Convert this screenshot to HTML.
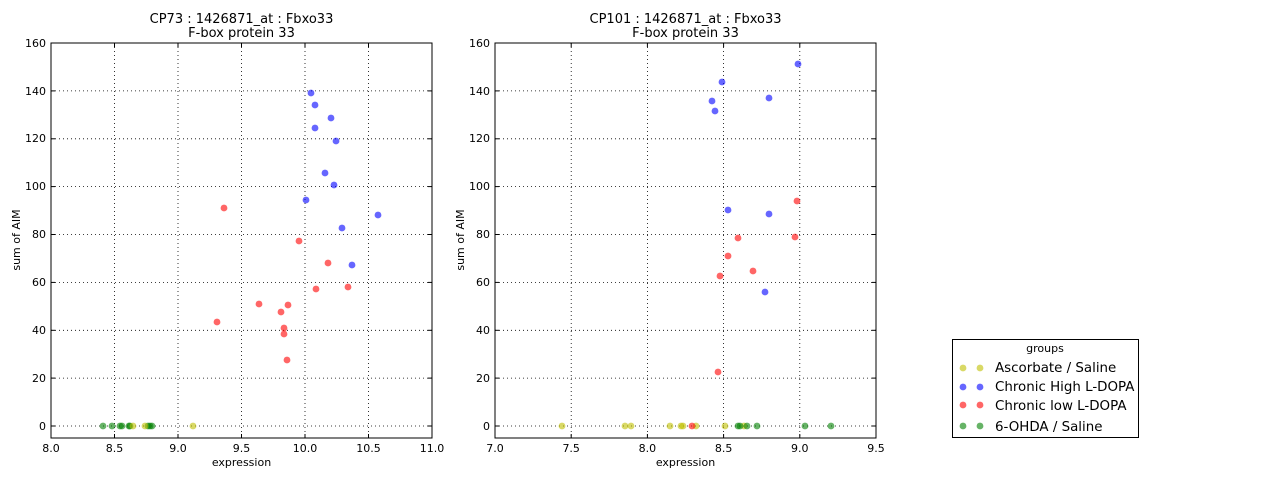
<!DOCTYPE html>
<html><head><meta charset="utf-8"><style>
body{margin:0;background:#fff}
svg{display:block;font-family:"DejaVu Sans","Liberation Sans",sans-serif}
</style></head><body>
<svg id="s" width="1280" height="480" viewBox="0 0 1280 480" xmlns="http://www.w3.org/2000/svg">
<rect width="1280" height="480" fill="#fff"/>
<g id="grid" stroke="#000" stroke-width="0.8" stroke-dasharray="1,3" fill="none"></g>
<g id="pts"></g>
<rect x="51" y="43" width="381" height="395" fill="none" stroke="#000" stroke-width="1"/>
<rect x="495" y="43" width="381" height="395" fill="none" stroke="#000" stroke-width="1"/>
<g id="ticks" stroke="#000" stroke-width="1"></g>
<g font-size="11" fill="#000">
<text x="241.5" y="23" text-anchor="middle" font-size="13">CP73 : 1426871_at : Fbxo33</text>
<text x="241.5" y="37" text-anchor="middle" font-size="13">F-box protein 33</text>
<text x="685.5" y="23" text-anchor="middle" font-size="13">CP101 : 1426871_at : Fbxo33</text>
<text x="685.5" y="37" text-anchor="middle" font-size="13">F-box protein 33</text>
<text x="241.5" y="466" text-anchor="middle">expression</text>
<text x="685.5" y="466" text-anchor="middle">expression</text>
<text transform="translate(20,240) rotate(-90)" text-anchor="middle">sum of AIM</text>
<text transform="translate(464,240) rotate(-90)" text-anchor="middle">sum of AIM</text>
<g text-anchor="middle">
<text x="51" y="452">8.0</text><text x="114.5" y="452">8.5</text><text x="178" y="452">9.0</text><text x="241.5" y="452">9.5</text><text x="305" y="452">10.0</text><text x="368.5" y="452">10.5</text><text x="432" y="452">11.0</text>
<text x="495" y="452">7.0</text><text x="571.2" y="452">7.5</text><text x="647.4" y="452">8.0</text><text x="723.6" y="452">8.5</text><text x="799.8" y="452">9.0</text><text x="876" y="452">9.5</text>
</g>
<g text-anchor="end">
<text x="46" y="430">0</text><text x="46" y="382">20</text><text x="46" y="334">40</text><text x="46" y="286">60</text><text x="46" y="238">80</text><text x="46" y="190">100</text><text x="46" y="142">120</text><text x="46" y="95">140</text><text x="46" y="47">160</text>
<text x="490" y="430">0</text><text x="490" y="382">20</text><text x="490" y="334">40</text><text x="490" y="286">60</text><text x="490" y="238">80</text><text x="490" y="190">100</text><text x="490" y="142">120</text><text x="490" y="95">140</text><text x="490" y="47">160</text>
</g>
</g>
<rect x="952.5" y="339.5" width="186" height="98" fill="#fff" stroke="#000" stroke-width="1"/>
<text x="1045" y="352" text-anchor="middle" font-size="11">groups</text>
<g font-size="13.4">
<text x="995" y="372">Ascorbate / Saline</text>
<text x="995" y="391">Chronic High L-DOPA</text>
<text x="995" y="410">Chronic low L-DOPA</text>
<text x="995" y="431">6-OHDA / Saline</text>
</g>
<g id="leg"></g>
</svg>
<script>
var NS="http://www.w3.org/2000/svg";
function el(p,t,a){var e=document.createElementNS(NS,t);for(var k in a)e.setAttribute(k,a[k]);document.getElementById(p).appendChild(e);}
var ys=[426,378.1,330.3,282.4,234.5,186.6,138.8,90.9,43];
[[51,[114.5,178,241.5,305,368.5],[51,114.5,178,241.5,305,368.5,432]],[495,[571.2,647.4,723.6,799.8],[495,571.2,647.4,723.6,799.8,876]]].forEach(function(p){
 var x0=p[0],x1=x0+381;
 p[1].forEach(function(x){el("grid","line",{x1:x,x2:x,y1:43,y2:438});});
 ys.forEach(function(y){el("grid","line",{x1:x0,x2:x1,y1:y,y2:y});
  el("ticks","line",{x1:x0,x2:x0+4,y1:y,y2:y});el("ticks","line",{x1:x1,x2:x1-4,y1:y,y2:y});});
 p[2].forEach(function(x){el("ticks","line",{x1:x,x2:x,y1:438,y2:434});el("ticks","line",{x1:x,x2:x,y1:43,y2:47});});
});
var C={b:"#0000ff",r:"#ff0000",y:"#bfbf00",g:"#008000"};
function pts(c,a,y){a.forEach(function(p){var x=p,yy=y;if(p.length){x=p[0];yy=p[1];}el("pts","circle",{cx:x,cy:yy,r:3.4,fill:C[c],"fill-opacity":0.6});});}
pts("b",[[311,93],[315,105],[315,128],[331,118],[336,141],[325,173],[334,185],[306,200],[342,228],[378,215],[352,265]]);
pts("r",[[224,208],[299,241],[328,263],[316,289],[348,287],[259,304],[288,305],[281,312],[284,328],[284,334],[217,322],[287,360]]);
pts("g",[103,112,120,122,129,130,148,152,150],426);
pts("y",[133,145,193],426);
pts("b",[[798,64],[722,82],[712,101],[715,111],[769,98],[728,210],[769,214],[765,292]]);
pts("r",[[797,201],[795,237],[738,238],[728,256],[753,271],[720,276],[718,372]]);
pts("y",[562,625,631,670,681,683,696,725,744],426);
pts("r",[692],426);
pts("g",[738,740,747,757,805,831],426);
[["y",368],["b",387],["r",405],["g",426]].forEach(function(l){
 [963,980].forEach(function(x){el("leg","circle",{cx:x,cy:l[1],r:3.4,fill:C[l[0]],"fill-opacity":0.6});});});
</script>
</body></html>
